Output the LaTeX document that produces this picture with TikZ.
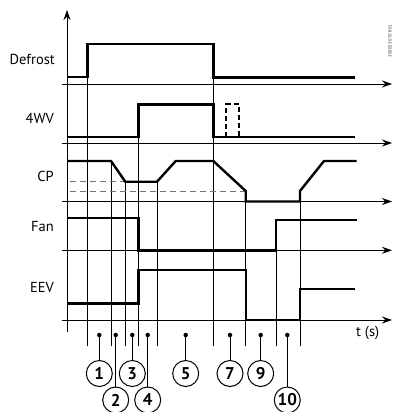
\documentclass[tikz,border=0pt]{standalone}
\usepackage{fontspec}
\setmainfont{PT Sans}
\usetikzlibrary{arrows.meta}
\begin{document}
\begin{tikzpicture}[x=1pt,y=-1pt,
  sig/.style={line width=2.4pt, line join=miter},
  tline/.style={line width=0.9pt},
  axisline/.style={line width=0.9pt, -{Stealth[length=10pt,width=7pt]}},
  lbl/.style={anchor=east, font=\fontsize{14.5}{16}\selectfont, inner sep=0},
  num/.style={circle, draw, line width=1pt, minimum size=26pt, inner sep=0, font=\fontsize{17}{18}\selectfont\bfseries},
  dot/.style={circle, fill, minimum size=4.5pt, inner sep=0},
  refline/.style={dash pattern=on 6pt off 4pt, line width=1pt, black!55},
  alt/.style={dash pattern=on 5pt off 3pt, line width=2pt},
]
\useasboundingbox (0,0) rectangle (393,412);

% vertical axis
\draw[axisline] (67,331.7) -- (67,10);
% horizontal axes
\foreach \yy in {84,143,201.5,250.3,320}
  \draw[axisline] (62,\yy) -- (392,\yy);

% time lines
\draw[tline] (87.3,44.3) -- (87.3,345.7);
\draw[tline] (111,161) -- (111,345.7);
\draw[tline] (125.3,181.7) -- (125.3,345.7);
\draw[tline] (138.3,104.3) -- (138.3,345.7);
\draw[tline] (157,181.7) -- (157,345.7);
\draw[tline] (213.3,44.3) -- (213.3,345.7);
\draw[tline] (245.7,191) -- (245.7,345.7);
\draw[tline] (276,220) -- (276,345.7);
\draw[tline] (300,191) -- (300,345.7);

% CP reference levels
\draw[refline] (70,181.7) -- (125.3,181.7);
\draw[refline] (70,191) -- (245.7,191);

% signals
\draw[sig] (67,76.7) -- (87.3,76.7) -- (87.3,44.3) -- (213.3,44.3) -- (213.3,77.3) -- (355,77.3);
\draw[sig] (67,136.7) -- (138.3,136.7) -- (138.3,104.3) -- (213.3,104.3) -- (213.3,136.7) -- (355,136.7);
\draw[alt] (226,136.7) -- (226,104.3) -- (239,104.3) -- (239,136.7);
\draw[sig] (67,161) -- (111,161) -- (125.3,181.7) -- (157,181.7) -- (175.7,161) -- (213.3,161) -- (245.7,191) -- (245.7,201.5) -- (300,201.5) -- (300,191) -- (324,161) -- (356.7,161);
\draw[sig] (67,217.7) -- (138.3,217.7) -- (138.3,250.3) -- (276,250.3) -- (276,220) -- (356.7,220);
\draw[sig] (67,303.3) -- (138.3,303.3) -- (138.3,270) -- (245.7,270) -- (245.7,320) -- (300,320) -- (300,289) -- (355,289);

% labels
\node[lbl] (lDef) at (55,59) {Defrost};
\node[lbl] (l4wv) at (54,118) {4WV};
\node[lbl] (lcp) at (54,176) {CP};
\node[lbl] (lfan) at (54,226) {Fan};
\node[lbl] (leev) at (54,288) {EEV};
\node[anchor=west, font=\fontsize{14.5}{16}\selectfont, inner sep=0] (lt) at (356,333) {t (s)};
\node[rotate=90, font=\fontsize{4.5}{5}\selectfont, inner sep=0, text=black!80] (code) at (390,41) {300053 070 R01};

% phase markers
\foreach \nm/\xx/\yy in {1/99.3/373.5, 2/115.7/400, 3/132.3/373.5, 4/147.7/400, 5/185.7/373.5, 7/230/373.5, 9/260.7/373.5, 10/287.3/400} {
  \node[dot] (d\nm) at (\xx,335) {};
  \node[num] (c\nm) at (\xx,\yy) {\nm};
  \draw[tline] (d\nm) -- (c\nm);
}
\end{tikzpicture}
\end{document}
